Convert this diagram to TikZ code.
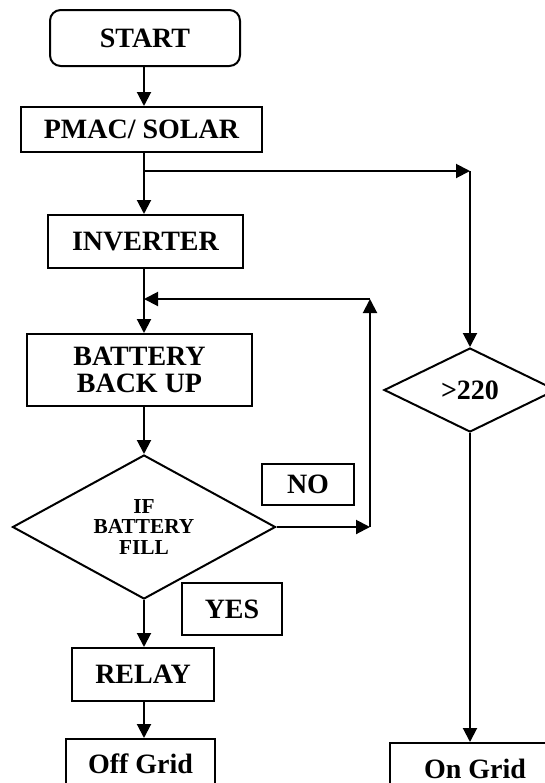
\documentclass[tikz,border=0pt]{standalone}
\usepackage{fontspec}
\setmainfont{Liberation Serif}
\usetikzlibrary{shapes.geometric,arrows.meta}
\begin{document}
\begin{tikzpicture}[x=0.75pt,y=-0.75pt,
  box/.style={draw,line width=1.5pt,inner sep=0pt,align=center,
    font=\fontsize{21}{20.5}\selectfont\bfseries},
  dec/.style={draw,diamond,line width=1.5pt,inner sep=0pt,align=center},
  arr/.style={line width=1.5pt,-{Triangle[length=10.5pt,width=10.5pt]}},
  ln/.style={line width=1.5pt}]
\useasboundingbox (0,0) rectangle (545,783);
\clip (0,0) rectangle (545,783);
\fill[white] (0,0) rectangle (545,783);
% nodes
\node[box,rounded corners=8pt,minimum width=142.5pt,minimum height=42pt] (start) at (145,38) {START};
\node[box,minimum width=180.75pt,minimum height=33.75pt] (pmac) at (141.5,129.5) {PMAC/ SOLAR};
\node[box,minimum width=146.25pt,minimum height=39.75pt] (inv) at (145.5,241.5) {INVERTER};
\node[box,minimum width=168.75pt,minimum height=54pt] (bat) at (139.5,370) {BATTERY\\BACK UP};
\node[dec,aspect=1.826,minimum width=197.25pt,minimum height=108pt,
  font=\fontsize{16}{15.5}\selectfont\bfseries] (dia) at (144,527) {IF\\BATTERY\\FILL};
\node[box,minimum width=69pt,minimum height=30.75pt] (no) at (308,484.5) {NO};
\node[box,minimum width=75pt,minimum height=39pt] (yes) at (232,609) {YES};
\node[box,minimum width=106.5pt,minimum height=39.75pt] (relay) at (143,674.5) {RELAY};
\node[box,minimum width=111.75pt,minimum height=37.5pt] (off) at (140.5,764) {Off Grid};
\node[dec,aspect=2.05,minimum width=129pt,minimum height=63pt,
  font=\fontsize{21}{20}\selectfont\bfseries] (gt) at (470,390) {>220};
\node[box,minimum width=127.5pt,minimum height=39pt] (on) at (475,769) {On Grid};
% helper coordinates
\coordinate (sp) at (144,0);
\coordinate (br) at (144,171);
\coordinate (tr) at (470,171);
\coordinate (fb2) at (370,299);
\coordinate (fb3) at (144,299);
% connectors
\draw[arr] (start.south -| sp) -- (pmac.north -| sp);
\draw[arr] (pmac.south -| sp) -- (inv.north -| sp);
\draw[arr] (br) -- (tr);
\draw[arr] (tr) -- (gt.north);
\draw[arr] (inv.south -| sp) -- (bat.north -| sp);
\draw[arr] (bat.south -| dia.north) -- (dia.north);
\draw[arr] (dia.east) -- (dia.east -| fb2);
\draw[arr] (dia.east -| fb2) -- (fb2);
\draw[arr] (fb2) -- (fb3);
\draw[arr] (dia.south) -- (dia.south |- relay.north);
\draw[arr] (relay.south -| sp) -- (off.north -| sp);
\draw[arr] (gt.south) -- (gt.south |- on.north);
\end{tikzpicture}
\end{document}
